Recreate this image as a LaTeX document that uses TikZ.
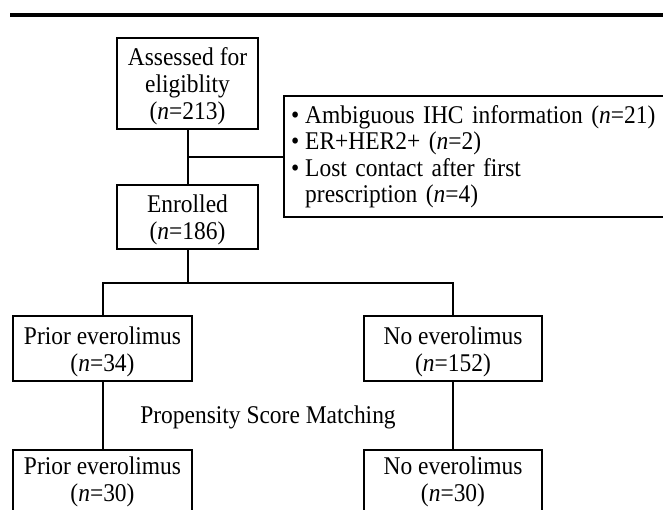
\documentclass[tikz,border=0pt]{standalone}
\usepackage{fontspec}
\setmainfont[FakeStretch=0.92]{Liberation Serif}
\newcommand\mytopstrut{\rule{0pt}{23.5pt}}
\begin{document}
\begin{tikzpicture}[x=1pt,y=-1pt,
  every node/.style={font=\fontsize{25.5}{27}\selectfont, inner sep=0pt},
  box/.style={draw, line width=2pt, align=center, minimum width=#1},
  box/.default=179,
  conn/.style={line width=2pt}]
\useasboundingbox (0,0) rectangle (663,510);
\clip (0,0) rectangle (663,510);
% top rule
\coordinate (r1) at (10,15);
\coordinate (r2) at (663,15);
\draw[line width=4pt] (r1) -- (r2);
% nodes
\node[box=141, minimum height=91] (assess) at (187.5,83.5) {\mytopstrut Assessed for\\eligiblity\\(\textit{n}=213)};
\node[box=141, minimum height=64] (enrolled) at (187.5,217) {\mytopstrut Enrolled\\(\textit{n}=186)};
\node[draw, line width=2pt, anchor=west, minimum width=400, minimum height=121, align=left, text width=393, inner xsep=7pt] (excl) at (283,156.5)
 {\begin{tabular}{@{}l@{\hspace{6pt}}l@{}}
  \rule{0pt}{21pt}\textbullet & Ambiguous IHC information (\textit{n}=21)\\[-0.5pt]
  \textbullet & ER+HER2+ (\textit{n}=2)\\[-0.5pt]
  \textbullet & Lost contact after first\\[-0.5pt]
   & prescription (\textit{n}=4)
  \end{tabular}};
\node[box=179, minimum height=65] (prior1) at (102.5,348.5) {\mytopstrut Prior everolimus\\(\textit{n}=34)};
\node[box=178, minimum height=65] (no1) at (453,348.5) {\mytopstrut No everolimus\\(\textit{n}=152)};
\node (psm) at (268,417) {Propensity Score Matching};
\node[box=179, minimum height=65] (prior2) at (102.5,482) {Prior everolimus\\(\textit{n}=30)};
\node[box=178, minimum height=65] (no2) at (453,482) {No everolimus\\(\textit{n}=30)};
% connectors
\coordinate (b1) at (187.5,157);
\coordinate (b2) at (187.5,283);
\coordinate (bl) at (102.5,283);
\coordinate (br) at (453,283);
\draw[conn] (assess.south) -- (enrolled.north);
\draw[conn] (b1) -- (excl.west |- b1);
\draw[conn] (enrolled.south) -- (b2);
\draw[conn] (prior1.north) -- (bl) -- (br) -- (no1.north);
\draw[conn] (prior1.south) -- (prior2.north);
\draw[conn] (no1.south) -- (no2.north);
\end{tikzpicture}
\end{document}
